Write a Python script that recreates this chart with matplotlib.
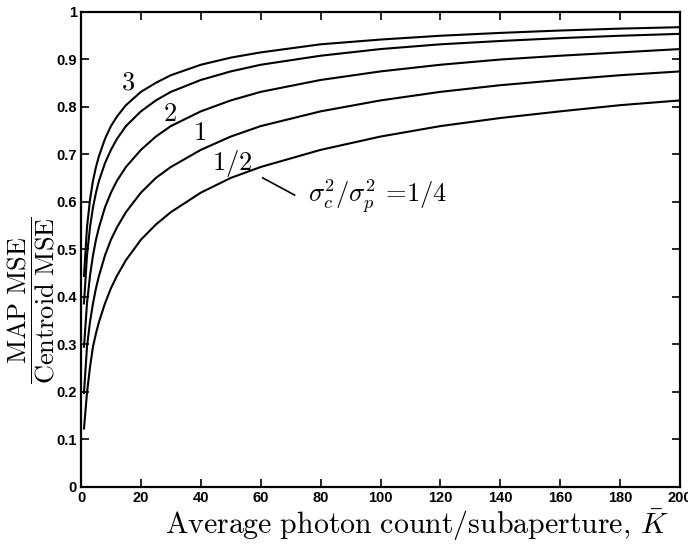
import matplotlib
matplotlib.use("Agg")
import matplotlib.pyplot as plt

plt.rcParams['mathtext.fontset'] = 'cm'

# Average photon count per subaperture (K bar)
K = [1, 2, 3, 4, 5, 6, 8, 10, 12, 15, 20, 25, 30, 40, 50, 60, 80, 100,
     120, 140, 160, 180, 200]

# MAP MSE / Centroid MSE, one list per sigma_c^2/sigma_p^2 ratio
ratio_3 = [0.444, 0.546, 0.604, 0.644, 0.673, 0.696, 0.732, 0.759, 0.779,
           0.803, 0.831, 0.850, 0.866, 0.888, 0.903, 0.914, 0.931, 0.941,
           0.949, 0.955, 0.960, 0.964, 0.967]
ratio_2 = [0.386, 0.487, 0.546, 0.588, 0.619, 0.644, 0.681, 0.709, 0.732,
           0.759, 0.790, 0.813, 0.831, 0.856, 0.874, 0.888, 0.907, 0.921,
           0.931, 0.938, 0.944, 0.949, 0.953]
ratio_1 = [0.295, 0.386, 0.444, 0.487, 0.520, 0.546, 0.588, 0.619, 0.644,
           0.673, 0.709, 0.737, 0.759, 0.790, 0.813, 0.831, 0.856, 0.874,
           0.888, 0.899, 0.907, 0.914, 0.921]
ratio_half = [0.198, 0.295, 0.347, 0.386, 0.418, 0.444, 0.487, 0.520, 0.546,
              0.578, 0.619, 0.650, 0.673, 0.709, 0.737, 0.759, 0.790, 0.813,
              0.831, 0.845, 0.856, 0.866, 0.874]
ratio_quarter = [0.123, 0.198, 0.252, 0.295, 0.323, 0.347, 0.386, 0.418,
                 0.444, 0.477, 0.520, 0.552, 0.578, 0.619, 0.650, 0.673,
                 0.709, 0.737, 0.759, 0.776, 0.790, 0.803, 0.813]

series = [ratio_3, ratio_2, ratio_1, ratio_half, ratio_quarter]

x_ticks = [0, 20, 40, 60, 80, 100, 120, 140, 160, 180, 200]
y_ticks = [0, 0.1, 0.2, 0.3, 0.4, 0.5, 0.6, 0.7, 0.8, 0.9, 1]
y_ticklabels = ['0', '0.1', '0.2', '0.3', '0.4', '0.5', '0.6', '0.7', '0.8', '0.9', '1']

fig = plt.figure(figsize=(6.88, 5.45), dpi=100)
ax = fig.add_axes([81/688, 1 - 487/545, (680 - 81)/688, (487 - 11.5)/545])

for s in series:
    ax.plot(K, s, color='black', lw=1.5, solid_joinstyle='round')

ax.set_xlim(0, 200)
ax.set_ylim(0, 1)
ax.set_xticks(x_ticks)
ax.set_yticks(y_ticks)
ax.set_yticklabels(y_ticklabels)
ax.tick_params(direction='in', length=6, width=1.2, top=True, right=True,
               labelsize=10.5, pad=3)
for lab in ax.get_xticklabels() + ax.get_yticklabels():
    lab.set_fontfamily('Liberation Sans')
    lab.set_fontweight('bold')
for sp in ax.spines.values():
    sp.set_linewidth(1.6)

ax.set_xlabel(r'$\mathrm{Average\ photon\ count/subaperture,}\,\bar{K}$',
              fontsize=21.5)
ax.xaxis.set_label_coords(0.56, -0.042)
ax.set_ylabel(r'$\dfrac{\mathrm{MAP\ MSE}}{\mathrm{Centroid\ MSE}}$',
              fontsize=19)
ax.yaxis.set_label_coords(-0.040, 0.393)

lab_fs = 19
ax.text(15.6, 0.850, r'$3$', fontsize=lab_fs, ha='center', va='center')
ax.text(29.7, 0.785, r'$2$', fontsize=lab_fs, ha='center', va='center')
ax.text(39.7, 0.744, r'$1$', fontsize=lab_fs, ha='center', va='center')
ax.text(50.5, 0.681, r'$1/2$', fontsize=lab_fs, ha='center', va='center')
ax.plot([60.7, 71.3], [0.650, 0.614], color='black', lw=1.2)
ax.text(75.7, 0.612, r'$\sigma_c^2/\sigma_p^2\,=\!1/4$', fontsize=lab_fs,
        ha='left', va='center')

fig.savefig('out.png', dpi=100)
